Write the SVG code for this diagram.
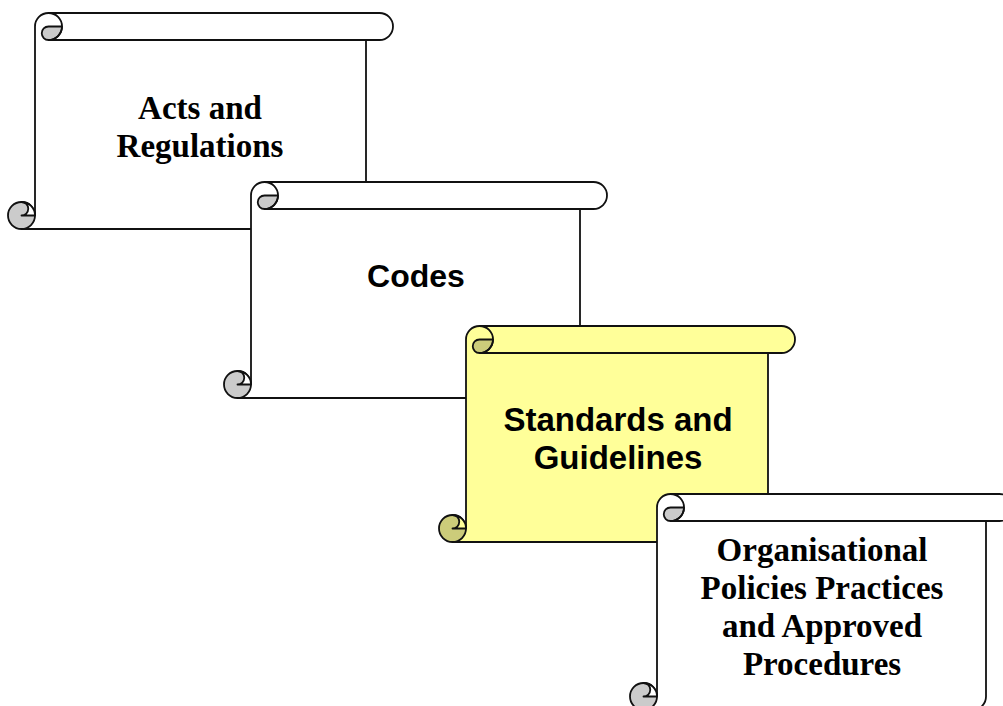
<svg xmlns="http://www.w3.org/2000/svg" width="1003" height="706" viewBox="0 0 1003 706">
<style>
.face{stroke:none}
.w .face,.w .notch{fill:#ffffff}
.y .face,.y .notch{fill:#ffff99}
.w .shade{fill:#cbcbcb}
.y .shade{fill:#cccc7a}
.ln{fill:none;stroke:#111;stroke-width:1.8;stroke-linejoin:round}
.shade,.notch{stroke:#111;stroke-width:1.8;stroke-linejoin:round}
.serif{font-family:"Liberation Serif","Times New Roman",serif;font-weight:bold;font-size:33px;fill:#000;text-anchor:middle}
.sans{font-family:"Liberation Sans",Arial,sans-serif;font-weight:bold;font-size:33px;fill:#000;text-anchor:middle}
</style>
<rect width="1003" height="706" fill="#ffffff"/>
<g id="connectors"></g>

<g id="acts" class="w">
<g transform="translate(8,13)">
<path class="face" d="M27,13.5 A13.5,13.5 0 0 1 40.5,0 L371.5,0 A13.5,13.5 0 0 1 371.5,27 L358,27 L358,202.5 A13.5,13.5 0 0 1 344.5,216 L13.5,216 A13.5,13.5 0 0 1 13.5,189 A13.5,13.5 0 0 1 27,202.5 Z"/>
<circle class="shade" cx="13.5" cy="202.5" r="13.5"/>
<path class="notch" d="M27,202.5 L13.5,202.5 A6.75,6.75 0 0 0 13.5,189 A13.5,13.5 0 0 1 27,202.5 Z"/>
<path class="shade" d="M40.5,27 A13.5,13.5 0 0 0 54,13.5 L40.5,13.5 A6.75,6.75 0 0 0 40.5,27 Z"/>
<path class="ln" d="M27,202.5 L27,13.5 A13.5,13.5 0 0 1 40.5,0 L371.5,0 A13.5,13.5 0 0 1 371.5,27 L40.5,27 M40.5,0 A13.5,13.5 0 0 1 40.5,27 M358,27 L358,202.5 A13.5,13.5 0 0 1 344.5,216 L13.5,216"/>
</g>
<text class="serif" x="200" y="119">Acts and</text>
<text class="serif" x="200" y="157">Regulations</text>
</g>

<g id="codes" class="w">
<g transform="translate(224,182)">
<path class="face" d="M27,13.5 A13.5,13.5 0 0 1 40.5,0 L369.5,0 A13.5,13.5 0 0 1 369.5,27 L356,27 L356,202.5 A13.5,13.5 0 0 1 342.5,216 L13.5,216 A13.5,13.5 0 0 1 13.5,189 A13.5,13.5 0 0 1 27,202.5 Z"/>
<circle class="shade" cx="13.5" cy="202.5" r="13.5"/>
<path class="notch" d="M27,202.5 L13.5,202.5 A6.75,6.75 0 0 0 13.5,189 A13.5,13.5 0 0 1 27,202.5 Z"/>
<path class="shade" d="M40.5,27 A13.5,13.5 0 0 0 54,13.5 L40.5,13.5 A6.75,6.75 0 0 0 40.5,27 Z"/>
<path class="ln" d="M27,202.5 L27,13.5 A13.5,13.5 0 0 1 40.5,0 L369.5,0 A13.5,13.5 0 0 1 369.5,27 L40.5,27 M40.5,0 A13.5,13.5 0 0 1 40.5,27 M356,27 L356,202.5 A13.5,13.5 0 0 1 342.5,216 L13.5,216"/>
</g>
<text class="sans" x="416" y="287" style="font-size:32px">Codes</text>
</g>

<g id="standards" class="y">
<g transform="translate(439,326)">
<path class="face" d="M27,13.5 A13.5,13.5 0 0 1 40.5,0 L342.5,0 A13.5,13.5 0 0 1 342.5,27 L329,27 L329,202.5 A13.5,13.5 0 0 1 315.5,216 L13.5,216 A13.5,13.5 0 0 1 13.5,189 A13.5,13.5 0 0 1 27,202.5 Z"/>
<circle class="shade" cx="13.5" cy="202.5" r="13.5"/>
<path class="notch" d="M27,202.5 L13.5,202.5 A6.75,6.75 0 0 0 13.5,189 A13.5,13.5 0 0 1 27,202.5 Z"/>
<path class="shade" d="M40.5,27 A13.5,13.5 0 0 0 54,13.5 L40.5,13.5 A6.75,6.75 0 0 0 40.5,27 Z"/>
<path class="ln" d="M27,202.5 L27,13.5 A13.5,13.5 0 0 1 40.5,0 L342.5,0 A13.5,13.5 0 0 1 342.5,27 L40.5,27 M40.5,0 A13.5,13.5 0 0 1 40.5,27 M329,27 L329,202.5 A13.5,13.5 0 0 1 315.5,216 L13.5,216"/>
</g>
<text class="sans" x="618" y="431">Standards and</text>
<text class="sans" x="618" y="469">Guidelines</text>
</g>

<g id="policies" class="w">
<g transform="translate(630,494)">
<path class="face" d="M27,13.5 A13.5,13.5 0 0 1 40.5,0 L369.5,0 A13.5,13.5 0 0 1 369.5,27 L356,27 L356,202.5 A13.5,13.5 0 0 1 342.5,216 L13.5,216 A13.5,13.5 0 0 1 13.5,189 A13.5,13.5 0 0 1 27,202.5 Z"/>
<circle class="shade" cx="13.5" cy="202.5" r="13.5"/>
<path class="notch" d="M27,202.5 L13.5,202.5 A6.75,6.75 0 0 0 13.5,189 A13.5,13.5 0 0 1 27,202.5 Z"/>
<path class="shade" d="M40.5,27 A13.5,13.5 0 0 0 54,13.5 L40.5,13.5 A6.75,6.75 0 0 0 40.5,27 Z"/>
<path class="ln" d="M27,202.5 L27,13.5 A13.5,13.5 0 0 1 40.5,0 L369.5,0 A13.5,13.5 0 0 1 369.5,27 L40.5,27 M40.5,0 A13.5,13.5 0 0 1 40.5,27 M356,27 L356,202.5 A13.5,13.5 0 0 1 342.5,216 L13.5,216"/>
</g>
<text class="serif" x="822" y="561">Organisational</text>
<text class="serif" x="822" y="599">Policies Practices</text>
<text class="serif" x="822" y="637">and Approved</text>
<text class="serif" x="822" y="675">Procedures</text>
</g>
</svg>
